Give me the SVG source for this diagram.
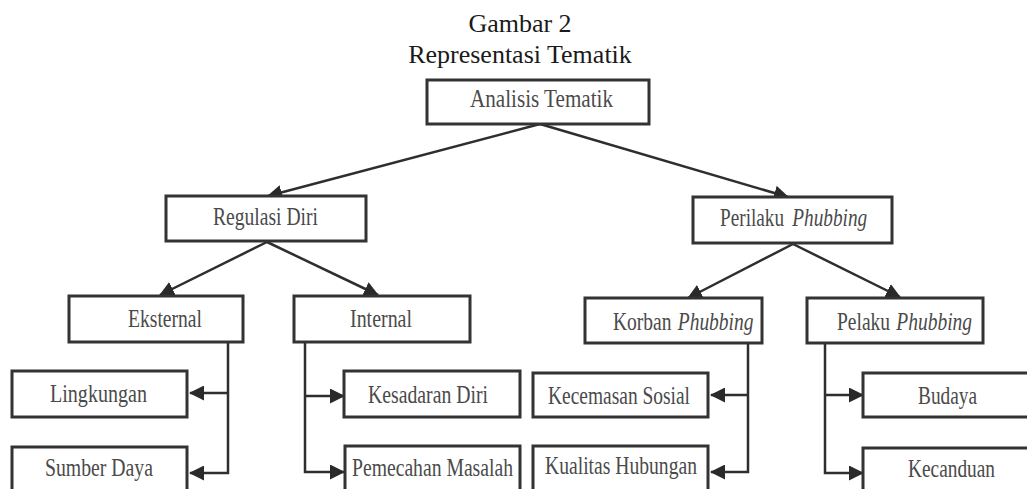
<svg xmlns="http://www.w3.org/2000/svg" width="1027" height="489" viewBox="0 0 1027 489">
<defs>
<style>
.box{fill:#fff;stroke:#333;stroke-width:3}
.lbl{font-family:"Liberation Serif","Times New Roman",serif;font-size:25px;fill:#4a4a4a}
.ttl{font-family:"Liberation Serif","Times New Roman",serif;font-size:26px;fill:#1a1a1a;text-anchor:middle}
.con{fill:none;stroke:#2e2e2e;stroke-width:2.5}
.it{font-style:italic}
</style>
<marker id="ah" markerUnits="userSpaceOnUse" markerWidth="15" markerHeight="15" viewBox="0 0 15 15" refX="14" refY="7.5" orient="auto">
<path d="M0,0 L15,7.5 L0,15 z" fill="#2a2a2a"/>
</marker>
</defs>
<rect width="1027" height="489" fill="#fff"/>
<text class="ttl" x="520" y="32">Gambar 2</text>
<text class="ttl" x="520" y="63">Representasi Tematik</text>

<g id="connectors">
<path class="con" d="M540,124 L268,196" marker-end="url(#ah)"/>
<path class="con" d="M540,124 L788,197" marker-end="url(#ah)"/>
<path class="con" d="M267,242 L160,295" marker-end="url(#ah)"/>
<path class="con" d="M267,242 L378,295" marker-end="url(#ah)"/>
<path class="con" d="M793,244 L688,298" marker-end="url(#ah)"/>
<path class="con" d="M793,244 L900,297" marker-end="url(#ah)"/>
<path class="con" d="M228,343 V473 H190" marker-end="url(#ah)"/>
<path class="con" d="M228,393 H190" marker-end="url(#ah)"/>
<path class="con" d="M305,343 V472 H344" marker-end="url(#ah)"/>
<path class="con" d="M305,396 H344" marker-end="url(#ah)"/>
<path class="con" d="M748,344 V472 H711" marker-end="url(#ah)"/>
<path class="con" d="M748,395 H711" marker-end="url(#ah)"/>
<path class="con" d="M825,344 V473 H863" marker-end="url(#ah)"/>
<path class="con" d="M825,395 H863" marker-end="url(#ah)"/>
</g>

<g id="analisis"><rect class="box" x="427" y="80" width="222" height="44"/><text class="lbl" x="470" y="107" textLength="143" lengthAdjust="spacingAndGlyphs">Analisis Tematik</text></g>
<g id="regulasi"><rect class="box" x="166" y="196" width="200" height="45"/><text class="lbl" x="213" y="225" textLength="105" lengthAdjust="spacingAndGlyphs">Regulasi Diri</text></g>
<g id="perilaku"><rect class="box" x="693" y="197" width="199" height="46"/><g transform="translate(720,226) scale(0.77,1)"><text class="lbl" x="0" y="0">Perilaku</text><text class="lbl it" x="94" y="0">Phubbing</text></g></g>
<g id="eksternal"><rect class="box" x="69" y="296" width="174" height="46"/><text class="lbl" x="128" y="327" textLength="74" lengthAdjust="spacingAndGlyphs">Eksternal</text></g>
<g id="internal"><rect class="box" x="294" y="296" width="176" height="46"/><text class="lbl" x="350" y="327" textLength="62" lengthAdjust="spacingAndGlyphs">Internal</text></g>
<g id="korban"><rect class="box" x="585" y="298" width="177" height="45"/><g transform="translate(613,330) scale(0.78,1)"><text class="lbl" x="0" y="0">Korban</text><text class="lbl it" x="83" y="0">Phubbing</text></g></g>
<g id="pelaku"><rect class="box" x="807" y="298" width="176" height="45"/><g transform="translate(837,330) scale(0.78,1)"><text class="lbl" x="0" y="0">Pelaku</text><text class="lbl it" x="76" y="0">Phubbing</text></g></g>
<g id="lingkungan"><rect class="box" x="12" y="371" width="175" height="46"/><text class="lbl" x="50" y="402" textLength="97" lengthAdjust="spacingAndGlyphs">Lingkungan</text></g>
<g id="sumber-daya"><rect class="box" x="12" y="447" width="175" height="50"/><text class="lbl" x="45" y="476" textLength="108" lengthAdjust="spacingAndGlyphs">Sumber Daya</text></g>
<g id="kesadaran"><rect class="box" x="344" y="371" width="176" height="46"/><text class="lbl" x="368" y="403" textLength="120" lengthAdjust="spacingAndGlyphs">Kesadaran Diri</text></g>
<g id="pemecahan"><rect class="box" x="345" y="446" width="175" height="50"/><text class="lbl" x="352" y="476" textLength="161" lengthAdjust="spacingAndGlyphs">Pemecahan Masalah</text></g>
<g id="kecemasan"><rect class="box" x="533" y="373" width="175" height="44"/><text class="lbl" x="548" y="404" textLength="142" lengthAdjust="spacingAndGlyphs">Kecemasan Sosial</text></g>
<g id="kualitas"><rect class="box" x="533" y="446" width="175" height="50"/><text class="lbl" x="545" y="474" textLength="152" lengthAdjust="spacingAndGlyphs">Kualitas Hubungan</text></g>
<g id="budaya"><rect class="box" x="863" y="373" width="172" height="44"/><text class="lbl" x="918" y="404" textLength="59" lengthAdjust="spacingAndGlyphs">Budaya</text></g>
<g id="kecanduan"><rect class="box" x="863" y="448" width="172" height="50"/><text class="lbl" x="908" y="477" textLength="87" lengthAdjust="spacingAndGlyphs">Kecanduan</text></g>
</svg>
